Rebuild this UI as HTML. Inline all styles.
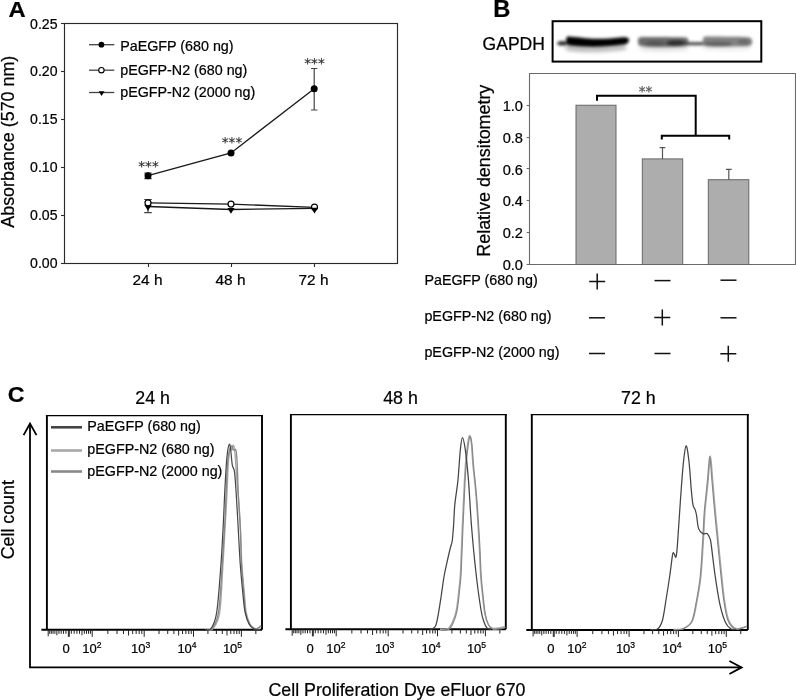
<!DOCTYPE html>
<html><head><meta charset="utf-8"><style>
html,body{margin:0;padding:0;background:#fff;}
svg{display:block;}
text{stroke:#000;stroke-width:0.22px;}
</style></head><body>
<svg width="796" height="700" viewBox="0 0 796 700" font-family='"Liberation Sans", Arial, Helvetica, sans-serif' fill="#000">
<text transform="translate(8.4,16.8) scale(1.08,1)" font-size="22" font-weight="bold">A</text>
<rect x="64.5" y="23.5" width="333" height="240" fill="none" stroke="#2a2a2a" stroke-width="1.15"/>
<line x1="61" y1="263.5" x2="64.5" y2="263.5" stroke="#2a2a2a" stroke-width="1.1"/>
<text x="57.5" y="268.0" font-size="14.1" text-anchor="end">0.00</text>
<line x1="61" y1="215.5" x2="64.5" y2="215.5" stroke="#2a2a2a" stroke-width="1.1"/>
<text x="57.5" y="220.1" font-size="14.1" text-anchor="end">0.05</text>
<line x1="61" y1="167.5" x2="64.5" y2="167.5" stroke="#2a2a2a" stroke-width="1.1"/>
<text x="57.5" y="172.2" font-size="14.1" text-anchor="end">0.10</text>
<line x1="61" y1="119.5" x2="64.5" y2="119.5" stroke="#2a2a2a" stroke-width="1.1"/>
<text x="57.5" y="124.3" font-size="14.1" text-anchor="end">0.15</text>
<line x1="61" y1="71.5" x2="64.5" y2="71.5" stroke="#2a2a2a" stroke-width="1.1"/>
<text x="57.5" y="76.4" font-size="14.1" text-anchor="end">0.20</text>
<line x1="61" y1="23.5" x2="64.5" y2="23.5" stroke="#2a2a2a" stroke-width="1.1"/>
<text x="57.5" y="28.5" font-size="14.1" text-anchor="end">0.25</text>
<line x1="148.5" y1="263.5" x2="148.5" y2="267" stroke="#2a2a2a" stroke-width="1.1"/>
<text x="147.5" y="285" font-size="15.4" text-anchor="middle">24 h</text>
<line x1="231.5" y1="263.5" x2="231.5" y2="267" stroke="#2a2a2a" stroke-width="1.1"/>
<text x="230.5" y="285" font-size="15.4" text-anchor="middle">48 h</text>
<line x1="314.5" y1="263.5" x2="314.5" y2="267" stroke="#2a2a2a" stroke-width="1.1"/>
<text x="313.5" y="285" font-size="15.4" text-anchor="middle">72 h</text>
<text transform="translate(14.3,141.7) rotate(-90)" font-size="17.9" text-anchor="middle">Absorbance (570 nm)</text>
<path d="M148,173.1 V178.7 M144.3,173.1 H151.7 M144.3,178.7 H151.7" stroke="#444" stroke-width="1.2" fill="none"/>
<path d="M314.2,68.5 V110 M311.0,68.5 H317.4 M311.0,110 H317.4" stroke="#444" stroke-width="1.2" fill="none"/>
<path d="M148,199.5 V212.6 M144.2,199.5 H151.8 M144.2,212.6 H151.8" stroke="#444" stroke-width="1.2" fill="none"/>
<polyline points="148,175.7 231,152.9 314.2,88.8" fill="none" stroke="#1a1a1a" stroke-width="1.3"/>
<polyline points="148,202.9 231,204.1 314.5,207.3" fill="none" stroke="#1a1a1a" stroke-width="1.3"/>
<polyline points="148,206.5 231,209.5 314.5,208.4" fill="none" stroke="#1a1a1a" stroke-width="1.3"/>
<circle cx="148" cy="175.7" r="3.5" fill="#000"/>
<circle cx="231" cy="152.9" r="3.5" fill="#000"/>
<circle cx="314.2" cy="88.8" r="3.5" fill="#000"/>
<circle cx="148" cy="202.9" r="3.0" fill="#fff" stroke="#000" stroke-width="1.2"/>
<circle cx="231" cy="204.1" r="3.0" fill="#fff" stroke="#000" stroke-width="1.2"/>
<circle cx="314.5" cy="207.1" r="3.0" fill="#fff" stroke="#000" stroke-width="1.2"/>
<path d="M144.4,205.088 H151.6 L148,210.81199999999998 Z" fill="#000"/>
<path d="M227.4,207.988 H234.6 L231,213.712 Z" fill="#000"/>
<path d="M310.9,207.688 H318.1 L314.5,213.41199999999998 Z" fill="#000"/>
<text x="148.5" y="171" font-family="DejaVu Sans" font-size="13.6" text-anchor="middle" fill="#2a2a2a" style="stroke:#2a2a2a;stroke-width:0.1px">***</text>
<text x="232" y="147.3" font-family="DejaVu Sans" font-size="13.6" text-anchor="middle" fill="#2a2a2a" style="stroke:#2a2a2a;stroke-width:0.1px">***</text>
<text x="314.5" y="67.5" font-family="DejaVu Sans" font-size="13.6" text-anchor="middle" fill="#2a2a2a" style="stroke:#2a2a2a;stroke-width:0.1px">***</text>
<line x1="89" y1="44.7" x2="114.3" y2="44.7" stroke="#444" stroke-width="1.3"/>
<text x="120.2" y="50.6" font-size="14.3">PaEGFP (680 ng)</text>
<line x1="89" y1="70.2" x2="114.3" y2="70.2" stroke="#444" stroke-width="1.3"/>
<text x="120.2" y="74.7" font-size="14.3">pEGFP-N2 (680 ng)</text>
<line x1="89" y1="92.5" x2="114.3" y2="92.5" stroke="#444" stroke-width="1.3"/>
<text x="120.2" y="96.6" font-size="14.3">pEGFP-N2 (2000 ng)</text>
<circle cx="101.4" cy="44.7" r="2.9" fill="#000"/>
<circle cx="101.4" cy="70.2" r="2.7" fill="#fff" stroke="#000" stroke-width="1.1"/>
<path d="M98.69999999999999,91.282 H104.5 L101.6,95.893 Z" fill="#000"/>
<text transform="translate(493.3,16.8) scale(1.08,1.05)" font-size="22" font-weight="bold">B</text>
<text x="482.6" y="50.3" font-size="17.5">GAPDH</text>
<defs><filter id="bl" x="-20%" y="-100%" width="140%" height="300%"><feGaussianBlur stdDeviation="1.45"/></filter><filter id="bl2" x="-20%" y="-100%" width="140%" height="300%"><feGaussianBlur stdDeviation="2.2"/></filter></defs>
<g filter="url(#bl2)"><path d="M566,46 C580,48.5 600,49 625,45.5 L626,49 C600,52 580,52 566,49.5 Z" fill="#999"/><path d="M640,46.5 C660,49 675,48.5 688,46.5 L688,49 C670,51 655,51 640,49 Z" fill="#ccc"/><path d="M703,46.5 C720,48.5 735,48.5 750,46.5 L750,49 C735,50.5 720,50.5 703,49 Z" fill="#ddd"/></g>
<g filter="url(#bl)"><ellipse cx="562.5" cy="43.3" rx="5.5" ry="2.3" fill="#2a2a2a"/><path d="M566.2,38.5 C566.4,37.0 567.5,36.4 569,36.5 C575,36.9 585,38.3 593,38.7 C603,39.0 612,38.3 620,37.5 C624.5,37.1 627.5,37.3 628.8,38.8 C629.6,41 628,43.8 625,44.4 C615,45.8 603,46.8 593,47.1 C583,47.0 575,46.4 569,45.6 C566.8,45.2 566.1,42 566.2,38.5 Z" fill="#000"/><path d="M638.3,38.5 C639,37.4 641,37.1 645,37.1 C660,37.2 675,37.2 685.5,37.4 C688,37.6 688.6,39 688.4,42 C688.3,45 687.5,46.3 684,46.5 C672,47.3 660,47.6 650,47 C644,46.6 640,46 638.6,45 C637.8,43 637.8,40 638.3,38.5 Z" fill="#6a6a6a"/><ellipse cx="676" cy="43" rx="10" ry="3.3" fill="#333"/><ellipse cx="655" cy="43.5" rx="10" ry="2.6" fill="#555"/><path d="M686,43.7 L705,43.7" stroke="#4a4a4a" stroke-width="3.2"/><path d="M703.2,38 C703.6,37 705,36.6 708,36.6 C720,36.7 735,36.8 748,37.2 C751,37.4 752.2,39 752.2,41.5 C752.2,44.5 751,46 747.5,46.2 C735,46.7 720,46.8 708,46.4 C705,46.2 703.3,45.5 703,44 C702.7,42 702.8,39.5 703.2,38 Z" fill="#808080"/><ellipse cx="718" cy="44" rx="14" ry="2.3" fill="#5e5e5e"/><ellipse cx="744" cy="42" rx="6" ry="3" fill="#6a6a6a"/></g>
<rect x="552.6" y="21.2" width="208.7" height="40.4" fill="none" stroke="#000" stroke-width="2"/>
<path d="M529.5,73.5 V264.5 H795.5 V73.5 Z" fill="none" stroke="#6a6a6a" stroke-width="1.1"/>
<line x1="526.6" y1="264.50" x2="529.5" y2="264.50" stroke="#6a6a6a" stroke-width="1.1"/>
<text x="523" y="270.10" font-size="14.6" text-anchor="end">0.0</text>
<line x1="526.6" y1="232.50" x2="529.5" y2="232.50" stroke="#6a6a6a" stroke-width="1.1"/>
<text x="523" y="238.25" font-size="14.6" text-anchor="end">0.2</text>
<line x1="526.6" y1="200.50" x2="529.5" y2="200.50" stroke="#6a6a6a" stroke-width="1.1"/>
<text x="523" y="206.40" font-size="14.6" text-anchor="end">0.4</text>
<line x1="526.6" y1="168.50" x2="529.5" y2="168.50" stroke="#6a6a6a" stroke-width="1.1"/>
<text x="523" y="174.55" font-size="14.6" text-anchor="end">0.6</text>
<line x1="526.6" y1="137.50" x2="529.5" y2="137.50" stroke="#6a6a6a" stroke-width="1.1"/>
<text x="523" y="142.70" font-size="14.6" text-anchor="end">0.8</text>
<line x1="526.6" y1="105.50" x2="529.5" y2="105.50" stroke="#6a6a6a" stroke-width="1.1"/>
<text x="523" y="110.85" font-size="14.6" text-anchor="end">1.0</text>
<text transform="translate(490.4,170.7) rotate(-90)" font-size="17.9" text-anchor="middle">Relative densitometry</text>
<rect x="576" y="105.25" width="40.0" height="159.25" fill="#adadad" stroke="#666" stroke-width="1"/>
<rect x="642.3" y="158.9" width="40.4" height="105.60" fill="#adadad" stroke="#666" stroke-width="1"/>
<rect x="708.3" y="179.7" width="40.5" height="84.80" fill="#adadad" stroke="#666" stroke-width="1"/>
<path d="M662.5,147.6 V158.9 M659.6,147.6 H665.4" stroke="#555" stroke-width="1.2" fill="none"/>
<path d="M728.8,169.4 V179.7 M725.9,169.4 H731.6999999999999" stroke="#555" stroke-width="1.2" fill="none"/>
<path d="M597,100.8 V95.7 H695.7 V135.7 M661.8,139.6 V135.7 H729.2 V139.6" fill="none" stroke="#000" stroke-width="2"/>
<text x="645.4" y="96" font-family="DejaVu Sans" font-size="13.5" text-anchor="middle" fill="#555" style="stroke:#555">**</text>
<text x="424.4" y="285.1" font-size="14.3">PaEGFP (680 ng)</text>
<text x="424.4" y="321" font-size="14.3">pEGFP-N2 (680 ng)</text>
<text x="424.4" y="356.7" font-size="14.3">pEGFP-N2 (2000 ng)</text>
<path d="M589.2,281.4 H605.2 M597.2,273.4 V289.4" stroke="#111" stroke-width="1.5"/>
<path d="M654.5,280.6 H670.5" stroke="#111" stroke-width="1.5"/>
<path d="M720.5,280.2 H736.5" stroke="#111" stroke-width="1.5"/>
<path d="M589,317.8 H605" stroke="#111" stroke-width="1.5"/>
<path d="M654.3,317.6 H670.3 M662.3,309.6 V325.6" stroke="#111" stroke-width="1.5"/>
<path d="M720.5,317.8 H736.5" stroke="#111" stroke-width="1.5"/>
<path d="M589,353.5 H605" stroke="#111" stroke-width="1.5"/>
<path d="M654.5,353.5 H670.5" stroke="#111" stroke-width="1.5"/>
<path d="M720.3,353.8 H736.3 M728.3,345.8 V361.8" stroke="#111" stroke-width="1.5"/>
<text transform="translate(7.8,402) scale(1.08,1.04)" font-size="21.5" font-weight="bold">C</text>
<text x="152.6" y="403.6" font-size="17.8" text-anchor="middle">24 h</text>
<path d="M46.9,629.8 V415.0 M262,415.0 V629.8" fill="none" stroke="#000" stroke-width="1.9"/>
<line x1="45.949999999999996" y1="415.6" x2="262.95" y2="415.6" stroke="#000" stroke-width="1.3"/>
<line x1="41.4" y1="629.8" x2="262" y2="629.8" stroke="#000" stroke-width="2"/>
<line x1="48.20" y1="629.8" x2="48.20" y2="636.3" stroke="#222" stroke-width="1"/>
<line x1="65.94" y1="629.8" x2="65.94" y2="633.8" stroke="#222" stroke-width="1"/>
<line x1="71.30" y1="629.8" x2="71.30" y2="633.8" stroke="#222" stroke-width="1"/>
<line x1="63.52" y1="629.8" x2="63.52" y2="633.8" stroke="#222" stroke-width="1"/>
<line x1="74.15" y1="629.8" x2="74.15" y2="633.8" stroke="#222" stroke-width="1"/>
<line x1="61.18" y1="629.8" x2="61.18" y2="633.8" stroke="#222" stroke-width="1"/>
<line x1="76.90" y1="629.8" x2="76.90" y2="633.8" stroke="#222" stroke-width="1"/>
<line x1="58.96" y1="629.8" x2="58.96" y2="633.8" stroke="#222" stroke-width="1"/>
<line x1="79.52" y1="629.8" x2="79.52" y2="633.8" stroke="#222" stroke-width="1"/>
<line x1="56.86" y1="629.8" x2="56.86" y2="635.3" stroke="#222" stroke-width="1"/>
<line x1="82.00" y1="629.8" x2="82.00" y2="635.3" stroke="#222" stroke-width="1"/>
<line x1="54.88" y1="629.8" x2="54.88" y2="633.8" stroke="#222" stroke-width="1"/>
<line x1="84.33" y1="629.8" x2="84.33" y2="633.8" stroke="#222" stroke-width="1"/>
<line x1="53.04" y1="629.8" x2="53.04" y2="633.8" stroke="#222" stroke-width="1"/>
<line x1="86.50" y1="629.8" x2="86.50" y2="633.8" stroke="#222" stroke-width="1"/>
<line x1="51.31" y1="629.8" x2="51.31" y2="633.8" stroke="#222" stroke-width="1"/>
<line x1="88.53" y1="629.8" x2="88.53" y2="633.8" stroke="#222" stroke-width="1"/>
<line x1="49.71" y1="629.8" x2="49.71" y2="633.8" stroke="#222" stroke-width="1"/>
<line x1="90.43" y1="629.8" x2="90.43" y2="633.8" stroke="#222" stroke-width="1"/>
<line x1="68.40" y1="629.8" x2="68.40" y2="636.8" stroke="#222" stroke-width="1"/>
<line x1="69.30" y1="629.8" x2="69.30" y2="636.8" stroke="#222" stroke-width="1"/>
<line x1="92.20" y1="629.8" x2="92.20" y2="636.8" stroke="#222" stroke-width="1"/>
<line x1="107.85" y1="629.8" x2="107.85" y2="634.0" stroke="#222" stroke-width="1"/>
<line x1="117.01" y1="629.8" x2="117.01" y2="634.0" stroke="#222" stroke-width="1"/>
<line x1="123.51" y1="629.8" x2="123.51" y2="634.0" stroke="#222" stroke-width="1"/>
<line x1="128.55" y1="629.8" x2="128.55" y2="635.5" stroke="#222" stroke-width="1"/>
<line x1="132.66" y1="629.8" x2="132.66" y2="634.0" stroke="#222" stroke-width="1"/>
<line x1="136.15" y1="629.8" x2="136.15" y2="634.0" stroke="#222" stroke-width="1"/>
<line x1="139.16" y1="629.8" x2="139.16" y2="634.0" stroke="#222" stroke-width="1"/>
<line x1="141.82" y1="629.8" x2="141.82" y2="634.0" stroke="#222" stroke-width="1"/>
<line x1="144.20" y1="629.8" x2="144.20" y2="636.8" stroke="#222" stroke-width="1"/>
<line x1="159.04" y1="629.8" x2="159.04" y2="634.0" stroke="#222" stroke-width="1"/>
<line x1="167.72" y1="629.8" x2="167.72" y2="634.0" stroke="#222" stroke-width="1"/>
<line x1="173.88" y1="629.8" x2="173.88" y2="634.0" stroke="#222" stroke-width="1"/>
<line x1="178.66" y1="629.8" x2="178.66" y2="635.5" stroke="#222" stroke-width="1"/>
<line x1="182.56" y1="629.8" x2="182.56" y2="634.0" stroke="#222" stroke-width="1"/>
<line x1="185.86" y1="629.8" x2="185.86" y2="634.0" stroke="#222" stroke-width="1"/>
<line x1="188.72" y1="629.8" x2="188.72" y2="634.0" stroke="#222" stroke-width="1"/>
<line x1="191.24" y1="629.8" x2="191.24" y2="634.0" stroke="#222" stroke-width="1"/>
<line x1="193.50" y1="629.8" x2="193.50" y2="636.8" stroke="#222" stroke-width="1"/>
<line x1="207.92" y1="629.8" x2="207.92" y2="634.0" stroke="#222" stroke-width="1"/>
<line x1="216.35" y1="629.8" x2="216.35" y2="634.0" stroke="#222" stroke-width="1"/>
<line x1="222.34" y1="629.8" x2="222.34" y2="634.0" stroke="#222" stroke-width="1"/>
<line x1="226.98" y1="629.8" x2="226.98" y2="635.5" stroke="#222" stroke-width="1"/>
<line x1="230.77" y1="629.8" x2="230.77" y2="634.0" stroke="#222" stroke-width="1"/>
<line x1="233.98" y1="629.8" x2="233.98" y2="634.0" stroke="#222" stroke-width="1"/>
<line x1="236.76" y1="629.8" x2="236.76" y2="634.0" stroke="#222" stroke-width="1"/>
<line x1="239.21" y1="629.8" x2="239.21" y2="634.0" stroke="#222" stroke-width="1"/>
<line x1="241.40" y1="629.8" x2="241.40" y2="636.8" stroke="#222" stroke-width="1"/>
<line x1="255.85" y1="629.8" x2="255.85" y2="634.0" stroke="#222" stroke-width="1"/>
<text x="66.0" y="652.6" font-size="13" text-anchor="middle">0</text>
<text x="91.9" y="652.6" font-size="13" text-anchor="middle">10<tspan font-size="8.6" dy="-4.3">2</tspan></text>
<text x="140.6" y="652.6" font-size="13" text-anchor="middle">10<tspan font-size="8.6" dy="-4.3">3</tspan></text>
<text x="187.0" y="652.6" font-size="13" text-anchor="middle">10<tspan font-size="8.6" dy="-4.3">4</tspan></text>
<text x="232.5" y="652.6" font-size="13" text-anchor="middle">10<tspan font-size="8.6" dy="-4.3">5</tspan></text>
<text x="400.5" y="403.6" font-size="17.8" text-anchor="middle">48 h</text>
<path d="M290.9,629.3 V414.09999999999997 M505.8,414.09999999999997 V629.3" fill="none" stroke="#000" stroke-width="1.9"/>
<line x1="289.95" y1="414.7" x2="506.75" y2="414.7" stroke="#000" stroke-width="1.3"/>
<line x1="285.4" y1="629.3" x2="505.8" y2="629.3" stroke="#000" stroke-width="2"/>
<line x1="292.20" y1="629.3" x2="292.20" y2="635.8" stroke="#222" stroke-width="1"/>
<line x1="309.94" y1="629.3" x2="309.94" y2="633.3" stroke="#222" stroke-width="1"/>
<line x1="315.30" y1="629.3" x2="315.30" y2="633.3" stroke="#222" stroke-width="1"/>
<line x1="307.52" y1="629.3" x2="307.52" y2="633.3" stroke="#222" stroke-width="1"/>
<line x1="318.15" y1="629.3" x2="318.15" y2="633.3" stroke="#222" stroke-width="1"/>
<line x1="305.18" y1="629.3" x2="305.18" y2="633.3" stroke="#222" stroke-width="1"/>
<line x1="320.90" y1="629.3" x2="320.90" y2="633.3" stroke="#222" stroke-width="1"/>
<line x1="302.96" y1="629.3" x2="302.96" y2="633.3" stroke="#222" stroke-width="1"/>
<line x1="323.52" y1="629.3" x2="323.52" y2="633.3" stroke="#222" stroke-width="1"/>
<line x1="300.86" y1="629.3" x2="300.86" y2="634.8" stroke="#222" stroke-width="1"/>
<line x1="326.00" y1="629.3" x2="326.00" y2="634.8" stroke="#222" stroke-width="1"/>
<line x1="298.88" y1="629.3" x2="298.88" y2="633.3" stroke="#222" stroke-width="1"/>
<line x1="328.33" y1="629.3" x2="328.33" y2="633.3" stroke="#222" stroke-width="1"/>
<line x1="297.04" y1="629.3" x2="297.04" y2="633.3" stroke="#222" stroke-width="1"/>
<line x1="330.50" y1="629.3" x2="330.50" y2="633.3" stroke="#222" stroke-width="1"/>
<line x1="295.31" y1="629.3" x2="295.31" y2="633.3" stroke="#222" stroke-width="1"/>
<line x1="332.53" y1="629.3" x2="332.53" y2="633.3" stroke="#222" stroke-width="1"/>
<line x1="293.71" y1="629.3" x2="293.71" y2="633.3" stroke="#222" stroke-width="1"/>
<line x1="334.43" y1="629.3" x2="334.43" y2="633.3" stroke="#222" stroke-width="1"/>
<line x1="312.40" y1="629.3" x2="312.40" y2="636.3" stroke="#222" stroke-width="1"/>
<line x1="313.30" y1="629.3" x2="313.30" y2="636.3" stroke="#222" stroke-width="1"/>
<line x1="336.20" y1="629.3" x2="336.20" y2="636.3" stroke="#222" stroke-width="1"/>
<line x1="351.85" y1="629.3" x2="351.85" y2="633.5" stroke="#222" stroke-width="1"/>
<line x1="361.01" y1="629.3" x2="361.01" y2="633.5" stroke="#222" stroke-width="1"/>
<line x1="367.51" y1="629.3" x2="367.51" y2="633.5" stroke="#222" stroke-width="1"/>
<line x1="372.55" y1="629.3" x2="372.55" y2="635.0" stroke="#222" stroke-width="1"/>
<line x1="376.66" y1="629.3" x2="376.66" y2="633.5" stroke="#222" stroke-width="1"/>
<line x1="380.15" y1="629.3" x2="380.15" y2="633.5" stroke="#222" stroke-width="1"/>
<line x1="383.16" y1="629.3" x2="383.16" y2="633.5" stroke="#222" stroke-width="1"/>
<line x1="385.82" y1="629.3" x2="385.82" y2="633.5" stroke="#222" stroke-width="1"/>
<line x1="388.20" y1="629.3" x2="388.20" y2="636.3" stroke="#222" stroke-width="1"/>
<line x1="403.04" y1="629.3" x2="403.04" y2="633.5" stroke="#222" stroke-width="1"/>
<line x1="411.72" y1="629.3" x2="411.72" y2="633.5" stroke="#222" stroke-width="1"/>
<line x1="417.88" y1="629.3" x2="417.88" y2="633.5" stroke="#222" stroke-width="1"/>
<line x1="422.66" y1="629.3" x2="422.66" y2="635.0" stroke="#222" stroke-width="1"/>
<line x1="426.56" y1="629.3" x2="426.56" y2="633.5" stroke="#222" stroke-width="1"/>
<line x1="429.86" y1="629.3" x2="429.86" y2="633.5" stroke="#222" stroke-width="1"/>
<line x1="432.72" y1="629.3" x2="432.72" y2="633.5" stroke="#222" stroke-width="1"/>
<line x1="435.24" y1="629.3" x2="435.24" y2="633.5" stroke="#222" stroke-width="1"/>
<line x1="437.50" y1="629.3" x2="437.50" y2="636.3" stroke="#222" stroke-width="1"/>
<line x1="451.92" y1="629.3" x2="451.92" y2="633.5" stroke="#222" stroke-width="1"/>
<line x1="460.35" y1="629.3" x2="460.35" y2="633.5" stroke="#222" stroke-width="1"/>
<line x1="466.34" y1="629.3" x2="466.34" y2="633.5" stroke="#222" stroke-width="1"/>
<line x1="470.98" y1="629.3" x2="470.98" y2="635.0" stroke="#222" stroke-width="1"/>
<line x1="474.77" y1="629.3" x2="474.77" y2="633.5" stroke="#222" stroke-width="1"/>
<line x1="477.98" y1="629.3" x2="477.98" y2="633.5" stroke="#222" stroke-width="1"/>
<line x1="480.76" y1="629.3" x2="480.76" y2="633.5" stroke="#222" stroke-width="1"/>
<line x1="483.21" y1="629.3" x2="483.21" y2="633.5" stroke="#222" stroke-width="1"/>
<line x1="485.40" y1="629.3" x2="485.40" y2="636.3" stroke="#222" stroke-width="1"/>
<line x1="499.85" y1="629.3" x2="499.85" y2="633.5" stroke="#222" stroke-width="1"/>
<text x="310.0" y="652.6" font-size="13" text-anchor="middle">0</text>
<text x="335.9" y="652.6" font-size="13" text-anchor="middle">10<tspan font-size="8.6" dy="-4.3">2</tspan></text>
<text x="384.6" y="652.6" font-size="13" text-anchor="middle">10<tspan font-size="8.6" dy="-4.3">3</tspan></text>
<text x="431.0" y="652.6" font-size="13" text-anchor="middle">10<tspan font-size="8.6" dy="-4.3">4</tspan></text>
<text x="476.5" y="652.6" font-size="13" text-anchor="middle">10<tspan font-size="8.6" dy="-4.3">5</tspan></text>
<text x="638.4" y="403.6" font-size="17.8" text-anchor="middle">72 h</text>
<path d="M531.8,629.9 V414.09999999999997 M747.8,414.09999999999997 V629.9" fill="none" stroke="#000" stroke-width="1.9"/>
<line x1="530.8499999999999" y1="414.7" x2="748.75" y2="414.7" stroke="#000" stroke-width="1.3"/>
<line x1="526.3" y1="629.9" x2="747.8" y2="629.9" stroke="#000" stroke-width="2"/>
<line x1="533.10" y1="629.9" x2="533.10" y2="636.4" stroke="#222" stroke-width="1"/>
<line x1="550.84" y1="629.9" x2="550.84" y2="633.9" stroke="#222" stroke-width="1"/>
<line x1="556.20" y1="629.9" x2="556.20" y2="633.9" stroke="#222" stroke-width="1"/>
<line x1="548.42" y1="629.9" x2="548.42" y2="633.9" stroke="#222" stroke-width="1"/>
<line x1="559.05" y1="629.9" x2="559.05" y2="633.9" stroke="#222" stroke-width="1"/>
<line x1="546.08" y1="629.9" x2="546.08" y2="633.9" stroke="#222" stroke-width="1"/>
<line x1="561.80" y1="629.9" x2="561.80" y2="633.9" stroke="#222" stroke-width="1"/>
<line x1="543.86" y1="629.9" x2="543.86" y2="633.9" stroke="#222" stroke-width="1"/>
<line x1="564.42" y1="629.9" x2="564.42" y2="633.9" stroke="#222" stroke-width="1"/>
<line x1="541.76" y1="629.9" x2="541.76" y2="635.4" stroke="#222" stroke-width="1"/>
<line x1="566.90" y1="629.9" x2="566.90" y2="635.4" stroke="#222" stroke-width="1"/>
<line x1="539.78" y1="629.9" x2="539.78" y2="633.9" stroke="#222" stroke-width="1"/>
<line x1="569.23" y1="629.9" x2="569.23" y2="633.9" stroke="#222" stroke-width="1"/>
<line x1="537.94" y1="629.9" x2="537.94" y2="633.9" stroke="#222" stroke-width="1"/>
<line x1="571.40" y1="629.9" x2="571.40" y2="633.9" stroke="#222" stroke-width="1"/>
<line x1="536.21" y1="629.9" x2="536.21" y2="633.9" stroke="#222" stroke-width="1"/>
<line x1="573.43" y1="629.9" x2="573.43" y2="633.9" stroke="#222" stroke-width="1"/>
<line x1="534.61" y1="629.9" x2="534.61" y2="633.9" stroke="#222" stroke-width="1"/>
<line x1="575.33" y1="629.9" x2="575.33" y2="633.9" stroke="#222" stroke-width="1"/>
<line x1="553.30" y1="629.9" x2="553.30" y2="636.9" stroke="#222" stroke-width="1"/>
<line x1="554.20" y1="629.9" x2="554.20" y2="636.9" stroke="#222" stroke-width="1"/>
<line x1="577.10" y1="629.9" x2="577.10" y2="636.9" stroke="#222" stroke-width="1"/>
<line x1="592.75" y1="629.9" x2="592.75" y2="634.1" stroke="#222" stroke-width="1"/>
<line x1="601.91" y1="629.9" x2="601.91" y2="634.1" stroke="#222" stroke-width="1"/>
<line x1="608.41" y1="629.9" x2="608.41" y2="634.1" stroke="#222" stroke-width="1"/>
<line x1="613.45" y1="629.9" x2="613.45" y2="635.6" stroke="#222" stroke-width="1"/>
<line x1="617.56" y1="629.9" x2="617.56" y2="634.1" stroke="#222" stroke-width="1"/>
<line x1="621.05" y1="629.9" x2="621.05" y2="634.1" stroke="#222" stroke-width="1"/>
<line x1="624.06" y1="629.9" x2="624.06" y2="634.1" stroke="#222" stroke-width="1"/>
<line x1="626.72" y1="629.9" x2="626.72" y2="634.1" stroke="#222" stroke-width="1"/>
<line x1="629.10" y1="629.9" x2="629.10" y2="636.9" stroke="#222" stroke-width="1"/>
<line x1="643.94" y1="629.9" x2="643.94" y2="634.1" stroke="#222" stroke-width="1"/>
<line x1="652.62" y1="629.9" x2="652.62" y2="634.1" stroke="#222" stroke-width="1"/>
<line x1="658.78" y1="629.9" x2="658.78" y2="634.1" stroke="#222" stroke-width="1"/>
<line x1="663.56" y1="629.9" x2="663.56" y2="635.6" stroke="#222" stroke-width="1"/>
<line x1="667.46" y1="629.9" x2="667.46" y2="634.1" stroke="#222" stroke-width="1"/>
<line x1="670.76" y1="629.9" x2="670.76" y2="634.1" stroke="#222" stroke-width="1"/>
<line x1="673.62" y1="629.9" x2="673.62" y2="634.1" stroke="#222" stroke-width="1"/>
<line x1="676.14" y1="629.9" x2="676.14" y2="634.1" stroke="#222" stroke-width="1"/>
<line x1="678.40" y1="629.9" x2="678.40" y2="636.9" stroke="#222" stroke-width="1"/>
<line x1="692.82" y1="629.9" x2="692.82" y2="634.1" stroke="#222" stroke-width="1"/>
<line x1="701.25" y1="629.9" x2="701.25" y2="634.1" stroke="#222" stroke-width="1"/>
<line x1="707.24" y1="629.9" x2="707.24" y2="634.1" stroke="#222" stroke-width="1"/>
<line x1="711.88" y1="629.9" x2="711.88" y2="635.6" stroke="#222" stroke-width="1"/>
<line x1="715.67" y1="629.9" x2="715.67" y2="634.1" stroke="#222" stroke-width="1"/>
<line x1="718.88" y1="629.9" x2="718.88" y2="634.1" stroke="#222" stroke-width="1"/>
<line x1="721.66" y1="629.9" x2="721.66" y2="634.1" stroke="#222" stroke-width="1"/>
<line x1="724.11" y1="629.9" x2="724.11" y2="634.1" stroke="#222" stroke-width="1"/>
<line x1="726.30" y1="629.9" x2="726.30" y2="636.9" stroke="#222" stroke-width="1"/>
<line x1="740.75" y1="629.9" x2="740.75" y2="634.1" stroke="#222" stroke-width="1"/>
<text x="550.9" y="652.6" font-size="13" text-anchor="middle">0</text>
<text x="576.8" y="652.6" font-size="13" text-anchor="middle">10<tspan font-size="8.6" dy="-4.3">2</tspan></text>
<text x="625.5" y="652.6" font-size="13" text-anchor="middle">10<tspan font-size="8.6" dy="-4.3">3</tspan></text>
<text x="671.9" y="652.6" font-size="13" text-anchor="middle">10<tspan font-size="8.6" dy="-4.3">4</tspan></text>
<text x="717.4" y="652.6" font-size="13" text-anchor="middle">10<tspan font-size="8.6" dy="-4.3">5</tspan></text>
<path d="M208.00,629.50 C208.83,629.35 211.05,631.45 213.00,628.60 C214.95,625.75 218.03,623.25 219.70,612.40 C221.37,601.55 222.03,578.90 223.00,563.50 C223.97,548.10 224.85,531.42 225.50,520.00 C226.15,508.58 226.45,504.17 226.90,495.00 C227.35,485.83 227.77,472.17 228.20,465.00 C228.63,457.83 229.10,455.00 229.50,452.00 C229.90,449.00 230.22,447.33 230.60,447.00 C230.98,446.67 231.38,450.30 231.80,450.00 C232.22,449.70 232.65,445.37 233.10,445.20 C233.55,445.03 234.10,446.53 234.50,449.00 C234.90,451.47 235.12,454.83 235.50,460.00 C235.88,465.17 236.33,474.17 236.80,480.00 C237.27,485.83 237.68,486.67 238.30,495.00 C238.92,503.33 239.92,518.58 240.50,530.00 C241.08,541.42 241.13,552.67 241.80,563.50 C242.47,574.33 243.77,586.85 244.50,595.00 C245.23,603.15 245.28,607.57 246.20,612.40 C247.12,617.23 248.53,621.30 250.00,624.00 C251.47,626.70 253.58,627.93 255.00,628.60 C256.42,629.27 257.50,628.52 258.50,628.00 C259.50,627.48 260.58,625.92 261.00,625.50" fill="none" stroke="#a8a8a8" stroke-width="1.4"/>
<path d="M207.00,629.50 C207.83,629.35 210.08,631.45 212.00,628.60 C213.92,625.75 216.78,623.25 218.50,612.40 C220.22,601.55 221.22,578.90 222.30,563.50 C223.38,548.10 224.38,531.42 225.00,520.00 C225.62,508.58 225.58,504.17 226.00,495.00 C226.42,485.83 227.00,472.17 227.50,465.00 C228.00,457.83 228.50,454.92 229.00,452.00 C229.50,449.08 230.00,448.50 230.50,447.50 C231.00,446.50 231.50,445.58 232.00,446.00 C232.50,446.42 232.85,449.35 233.50,450.00 C234.15,450.65 235.32,448.23 235.90,449.90 C236.48,451.57 236.68,454.98 237.00,460.00 C237.32,465.02 237.58,474.17 237.80,480.00 C238.02,485.83 237.87,486.67 238.30,495.00 C238.73,503.33 239.87,518.58 240.40,530.00 C240.93,541.42 240.90,552.67 241.50,563.50 C242.10,574.33 243.32,586.85 244.00,595.00 C244.68,603.15 244.68,607.57 245.60,612.40 C246.52,617.23 248.10,621.30 249.50,624.00 C250.90,626.70 252.58,627.93 254.00,628.60 C255.42,629.27 256.83,628.43 258.00,628.00 C259.17,627.57 260.50,626.33 261.00,626.00" fill="none" stroke="#888" stroke-width="1.3"/>
<path d="M205.00,629.50 C206.00,629.35 209.05,631.45 211.00,628.60 C212.95,625.75 215.03,623.25 216.70,612.40 C218.37,601.55 219.87,578.90 221.00,563.50 C222.13,548.10 222.90,531.42 223.50,520.00 C224.10,508.58 224.13,504.17 224.60,495.00 C225.07,485.83 225.77,472.50 226.30,465.00 C226.83,457.50 227.28,453.47 227.80,450.00 C228.32,446.53 228.93,444.37 229.40,444.20 C229.87,444.03 230.12,445.53 230.60,449.00 C231.08,452.47 231.65,461.17 232.30,465.00 C232.95,468.83 233.83,467.00 234.50,472.00 C235.17,477.00 235.67,485.33 236.30,495.00 C236.93,504.67 237.65,518.58 238.30,530.00 C238.95,541.42 239.42,552.67 240.20,563.50 C240.98,574.33 242.18,586.85 243.00,595.00 C243.82,603.15 244.10,607.57 245.10,612.40 C246.10,617.23 247.52,621.23 249.00,624.00 C250.48,626.77 252.17,628.08 254.00,629.00 C255.83,629.92 259.00,629.42 260.00,629.50" fill="none" stroke="#444" stroke-width="1.2"/>
<path d="M440.00,629.30 C441.33,629.17 445.92,629.72 448.00,628.50 C450.08,627.28 451.10,625.08 452.50,622.00 C453.90,618.92 455.25,616.17 456.40,610.00 C457.55,603.83 458.70,591.67 459.40,585.00 C460.10,578.33 460.10,580.00 460.60,570.00 C461.10,560.00 461.83,538.33 462.40,525.00 C462.97,511.67 463.50,499.93 464.00,490.00 C464.50,480.07 464.82,472.90 465.40,465.40 C465.98,457.90 466.83,449.98 467.50,445.00 C468.17,440.02 468.77,435.83 469.40,435.50 C470.03,435.17 470.70,438.02 471.30,443.00 C471.90,447.98 472.22,456.62 473.00,465.40 C473.78,474.18 475.00,483.08 476.00,495.70 C477.00,508.32 478.23,527.88 479.00,541.10 C479.77,554.32 480.02,566.02 480.60,575.00 C481.18,583.98 481.82,588.67 482.50,595.00 C483.18,601.33 483.78,608.17 484.70,613.00 C485.62,617.83 486.73,621.47 488.00,624.00 C489.27,626.53 490.30,627.57 492.30,628.20 C494.30,628.83 497.88,628.12 500.00,627.80 C502.12,627.48 504.17,626.55 505.00,626.30" fill="none" stroke="#a8a8a8" stroke-width="1.4"/>
<path d="M440.60,630.30 C441.93,630.17 446.52,630.72 448.60,629.50 C450.68,628.28 451.70,626.08 453.10,623.00 C454.50,619.92 455.85,617.17 457.00,611.00 C458.15,604.83 459.30,592.67 460.00,586.00 C460.70,579.33 460.70,581.00 461.20,571.00 C461.70,561.00 462.43,539.33 463.00,526.00 C463.57,512.67 464.10,500.93 464.60,491.00 C465.10,481.07 465.42,473.90 466.00,466.40 C466.58,458.90 467.43,450.98 468.10,446.00 C468.77,441.02 469.37,436.83 470.00,436.50 C470.63,436.17 471.30,439.02 471.90,444.00 C472.50,448.98 472.82,457.62 473.60,466.40 C474.38,475.18 475.60,484.08 476.60,496.70 C477.60,509.32 478.83,528.88 479.60,542.10 C480.37,555.32 480.62,567.02 481.20,576.00 C481.78,584.98 482.42,589.67 483.10,596.00 C483.78,602.33 484.38,609.17 485.30,614.00 C486.22,618.83 487.33,622.47 488.60,625.00 C489.87,627.53 490.90,628.57 492.90,629.20 C494.90,629.83 498.48,629.12 500.60,628.80 C502.72,628.48 504.77,627.55 505.60,627.30" fill="none" stroke="#888" stroke-width="1.2"/>
<path d="M430.00,629.30 C430.50,629.17 432.00,629.22 433.00,628.50 C434.00,627.78 435.08,627.58 436.00,625.00 C436.92,622.42 437.63,617.83 438.50,613.00 C439.37,608.17 440.25,602.25 441.20,596.00 C442.15,589.75 443.15,581.50 444.20,575.50 C445.25,569.50 446.48,564.58 447.50,560.00 C448.52,555.42 449.52,551.17 450.30,548.00 C451.08,544.83 451.65,544.83 452.20,541.00 C452.75,537.17 453.17,531.03 453.60,525.00 C454.03,518.97 454.08,512.20 454.80,504.80 C455.52,497.40 456.98,489.68 457.90,480.60 C458.82,471.52 459.55,457.47 460.30,450.30 C461.05,443.13 461.55,437.60 462.40,437.60 C463.25,437.60 464.38,443.13 465.40,450.30 C466.42,457.47 467.48,467.98 468.50,480.60 C469.52,493.22 470.25,510.60 471.50,526.00 C472.75,541.40 474.42,559.00 476.00,573.00 C477.58,587.00 479.67,601.83 481.00,610.00 C482.33,618.17 483.00,619.00 484.00,622.00 C485.00,625.00 485.83,626.78 487.00,628.00 C488.17,629.22 490.33,629.08 491.00,629.30" fill="none" stroke="#444" stroke-width="1.25"/>
<path d="M674.00,629.40 C675.67,629.22 680.92,629.73 684.00,628.30 C687.08,626.87 690.30,625.52 692.50,620.80 C694.70,616.08 695.78,607.55 697.20,600.00 C698.62,592.45 699.93,586.00 701.00,575.50 C702.07,565.00 702.93,547.68 703.60,537.00 C704.27,526.32 704.28,520.42 705.00,511.40 C705.72,502.38 707.17,490.63 707.90,482.90 C708.63,475.17 708.98,469.48 709.40,465.00 C709.82,460.52 710.05,456.00 710.40,456.00 C710.75,456.00 711.08,460.52 711.50,465.00 C711.92,469.48 712.25,475.17 712.90,482.90 C713.55,490.63 714.57,502.38 715.40,511.40 C716.23,520.42 716.85,526.32 717.90,537.00 C718.95,547.68 720.60,565.00 721.70,575.50 C722.80,586.00 723.40,592.75 724.50,600.00 C725.60,607.25 726.57,614.30 728.30,619.00 C730.03,623.70 732.62,626.73 734.90,628.20 C737.18,629.67 739.98,628.17 742.00,627.80 C744.02,627.43 746.17,626.30 747.00,626.00" fill="none" stroke="#a8a8a8" stroke-width="1.4"/>
<path d="M673.30,629.90 C674.97,629.72 680.22,630.23 683.30,628.80 C686.38,627.37 689.60,626.02 691.80,621.30 C694.00,616.58 695.08,608.05 696.50,600.50 C697.92,592.95 699.23,586.50 700.30,576.00 C701.37,565.50 702.23,548.18 702.90,537.50 C703.57,526.82 703.58,520.92 704.30,511.90 C705.02,502.88 706.47,491.13 707.20,483.40 C707.93,475.67 708.28,469.98 708.70,465.50 C709.12,461.02 709.35,456.50 709.70,456.50 C710.05,456.50 710.38,461.02 710.80,465.50 C711.22,469.98 711.55,475.67 712.20,483.40 C712.85,491.13 713.87,502.88 714.70,511.90 C715.53,520.92 716.15,526.82 717.20,537.50 C718.25,548.18 719.90,565.50 721.00,576.00 C722.10,586.50 722.70,593.25 723.80,600.50 C724.90,607.75 725.87,614.80 727.60,619.50 C729.33,624.20 731.92,627.23 734.20,628.70 C736.48,630.17 739.28,628.67 741.30,628.30 C743.32,627.93 745.47,626.80 746.30,626.50" fill="none" stroke="#888" stroke-width="1.2"/>
<path d="M650.00,629.40 C651.25,629.33 655.45,630.43 657.50,629.00 C659.55,627.57 660.88,625.63 662.30,620.80 C663.72,615.97 664.75,607.55 666.00,600.00 C667.25,592.45 668.70,583.05 669.80,575.50 C670.90,567.95 671.90,558.37 672.60,554.70 C673.30,551.03 673.43,553.12 674.00,553.50 C674.57,553.88 675.43,558.35 676.00,557.00 C676.57,555.65 676.68,554.53 677.40,545.40 C678.12,536.27 679.33,515.67 680.30,502.20 C681.27,488.73 682.23,473.98 683.20,464.60 C684.17,455.22 685.13,446.38 686.10,445.90 C687.07,445.42 688.13,454.35 689.00,461.70 C689.87,469.05 690.63,482.78 691.30,490.00 C691.97,497.22 692.38,501.78 693.00,505.00 C693.62,508.22 694.42,507.63 695.00,509.30 C695.58,510.97 695.90,511.78 696.50,515.00 C697.10,518.22 697.53,525.50 698.60,528.60 C699.67,531.70 701.48,532.77 702.90,533.60 C704.32,534.43 705.92,532.77 707.10,533.60 C708.28,534.43 709.30,536.65 710.00,538.60 C710.70,540.55 710.45,539.15 711.30,545.30 C712.15,551.45 713.68,565.75 715.10,575.50 C716.52,585.25 718.07,595.95 719.80,603.80 C721.53,611.65 723.63,618.40 725.50,622.60 C727.37,626.80 729.25,627.87 731.00,629.00 C732.75,630.13 735.17,629.33 736.00,629.40" fill="none" stroke="#444" stroke-width="1.25"/>
<line x1="51" y1="427.3" x2="82" y2="427.3" stroke="#444" stroke-width="2.6"/>
<text x="87.3" y="430.9" font-size="14.3">PaEGFP (680 ng)</text>
<line x1="51" y1="450.5" x2="82" y2="450.5" stroke="#a8a8a8" stroke-width="2.6"/>
<text x="87.3" y="454.2" font-size="14.3">pEGFP-N2 (680 ng)</text>
<line x1="51" y1="471.5" x2="82" y2="471.5" stroke="#888" stroke-width="2.6"/>
<text x="87.3" y="475.8" font-size="14.3">pEGFP-N2 (2000 ng)</text>
<path d="M30,423.8 V667.4 H741.4" fill="none" stroke="#000" stroke-width="1.8"/>
<path d="M23.6,435.1 L30,423.6 L36.5,435.1" fill="none" stroke="#000" stroke-width="1.8" stroke-linejoin="miter"/>
<path d="M729.4,661 L741.6,667.4 L729.4,674" fill="none" stroke="#000" stroke-width="1.8"/>
<text transform="translate(13.6,519.7) rotate(-90)" font-size="17.8" text-anchor="middle">Cell count</text>
<text x="268.5" y="695.9" font-size="17.8">Cell Proliferation Dye eFluor 670</text>
</svg>
</body></html>
